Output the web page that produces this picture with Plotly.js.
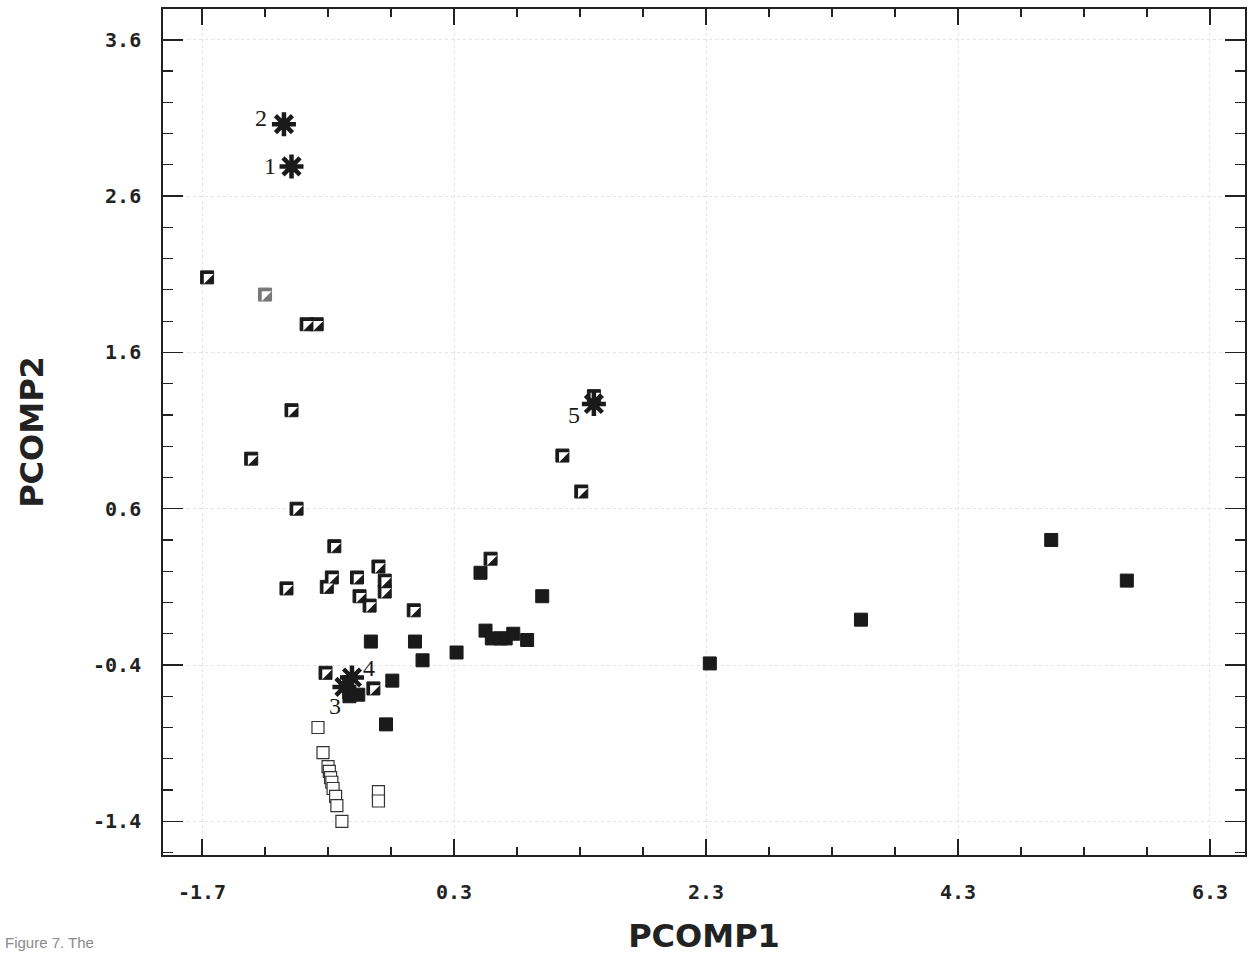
<!DOCTYPE html>
<html>
<head>
<meta charset="utf-8">
<script src="https://cdn.plot.ly/plotly-3.0.1.min.js"></script>
<style>
  html, body { margin: 0; padding: 0; background: #fff; }
  #chart { width: 1256px; height: 957px; }
</style>
</head>
<body>
<div id="chart"></div>
<script>
// Half-filled squares (diagonal black/white)
const halfX = [-1.66, -0.87, -0.79, -0.99, -1.31, -0.95, -0.65, -0.30, -0.67, -0.47, -1.03, -0.71, -0.25, -0.25, -0.45, -0.37, -0.02, -0.72, -0.34, 0.59, 1.41, 1.16, 1.31];
const halfY = [2.08, 1.78, 1.78, 1.23, 0.92, 0.60, 0.36, 0.23, 0.16, 0.16, 0.09, 0.10, 0.14, 0.07, 0.04, -0.02, -0.05, -0.45, -0.55, 0.28, 1.32, 0.94, 0.71];
// Grey half-filled square
const greyHalfX = [-1.20];
const greyHalfY = [1.97];
// Filled squares
const filledX = [-0.36, -0.01, 0.05, -0.19, -0.53, -0.46, -0.24, 0.32, 0.51, 1.00, 0.55, 0.60, 0.67, 0.71, 0.77, 0.88, 2.33, 3.53, 5.04, 5.64];
const filledY = [-0.25, -0.25, -0.37, -0.50, -0.60, -0.59, -0.78, -0.32, 0.19, 0.04, -0.18, -0.23, -0.23, -0.23, -0.20, -0.24, -0.39, -0.11, 0.40, 0.14];
// Open squares
const openX = [-0.78, -0.74, -0.70, -0.69, -0.68, -0.67, -0.66, -0.64, -0.63, -0.59, -0.30, -0.30];
const openY = [-0.80, -0.96, -1.05, -1.08, -1.12, -1.15, -1.19, -1.24, -1.30, -1.40, -1.21, -1.27];
// Stars (numbered)
const starX = [-0.99, -1.05, -0.57, -0.51, 1.41];
const starY = [2.79, 3.06, -0.54, -0.48, 1.27];
const starLabels = ["1", "2", "3", "4", "5"];
// Tick labels
const xTickVals = [-1.7, 0.3, 2.3, 4.3, 6.3];
const xTickText = ["-1.7", "0.3", "2.3", "4.3", "6.3"];
const yTickVals = [-1.4, -0.4, 0.6, 1.6, 2.6, 3.6];
const yTickText = ["-1.4", "-0.4", "0.6", "1.6", "2.6", "3.6"];

const ink = '#1a1a1a';
const traces = [
  { x: openX, y: openY, type: 'scatter', mode: 'markers',
    marker: { symbol: 'square', size: 12, color: '#ffffff', line: { color: '#333', width: 1.2 } } },
  { x: halfX, y: halfY, type: 'scatter', mode: 'markers',
    marker: { symbol: 'square', size: 13, color: ink, line: { color: ink, width: 1 } } },
  { x: halfX, y: halfY, type: 'scatter', mode: 'markers',
    marker: { symbol: 'triangle-nw', size: 11, color: '#ffffff', line: { width: 0 } } },
  { x: greyHalfX, y: greyHalfY, type: 'scatter', mode: 'markers',
    marker: { symbol: 'square', size: 13, color: '#777', line: { color: '#777', width: 1 } } },
  { x: greyHalfX, y: greyHalfY, type: 'scatter', mode: 'markers',
    marker: { symbol: 'triangle-nw', size: 11, color: '#ffffff', line: { width: 0 } } },
  { x: filledX, y: filledY, type: 'scatter', mode: 'markers',
    marker: { symbol: 'square', size: 13, color: ink, line: { color: ink, width: 1 } } },
  { x: starX, y: starY, type: 'scatter', mode: 'markers',
    marker: { symbol: 'asterisk', size: 20, color: ink, line: { color: ink, width: 4.5 } } },
  { x: starX, y: starY, type: 'scatter', mode: 'markers',
    marker: { symbol: 'circle', size: 12, color: ink, line: { width: 0 } } }
];

const labelShift = { "1": [-22, 0], "2": [-23, 6], "3": [-9, -19], "4": [17, 10], "5": [-20, -11] };
const annotations = starLabels.map((t, i) => ({
  x: starX[i], y: starY[i], xref: 'x', yref: 'y', text: t, showarrow: false,
  xshift: labelShift[t][0], yshift: labelShift[t][1],
  font: { family: 'Liberation Serif, serif', size: 24, color: ink }
}));
annotations.push({
  xref: 'paper', yref: 'paper', x: -0.148, y: -0.116, xanchor: 'left', yanchor: 'bottom',
  text: 'Figure 7. The', showarrow: false,
  font: { family: 'Liberation Sans, sans-serif', size: 15, color: '#8a8a8a' }
});

const tickFont = { family: 'DejaVu Sans Mono, monospace', size: 20, color: '#222', weight: 'bold' };
const titleFont = { family: 'DejaVu Sans, sans-serif', size: 32, color: '#222', weight: 'bold' };

const layout = {
  width: 1256, height: 957,
  margin: { l: 163, r: 11, t: 9, b: 102 },
  paper_bgcolor: '#ffffff', plot_bgcolor: '#ffffff',
  showlegend: false,
  xaxis: {
    range: [-2.01, 6.578], tickvals: xTickVals, ticktext: xTickText,
    ticks: 'inside', ticklen: 16, tickwidth: 1.5, tickcolor: '#222',
    showline: true, linecolor: '#222', linewidth: 1.8, mirror: 'ticks',
    showgrid: true, gridcolor: '#e4e4e4', gridwidth: 1, griddash: 'dot',
    zeroline: false, tickfont: tickFont, ticklabelstandoff: 18,
    minor: { dtick: 0.5, tick0: -1.7, ticks: 'inside', ticklen: 8, tickwidth: 1.2, tickcolor: '#222', showgrid: false },
    title: { text: 'PCOMP1', font: titleFont, standoff: 22 }
  },
  yaxis: {
    range: [-1.6156, 3.797], tickvals: yTickVals, ticktext: yTickText,
    ticks: 'inside', ticklen: 20, tickwidth: 1.5, tickcolor: '#222',
    showline: true, linecolor: '#222', linewidth: 1.8, mirror: 'ticks',
    showgrid: true, gridcolor: '#e4e4e4', gridwidth: 1, griddash: 'dot',
    zeroline: false, tickfont: tickFont, ticklabelstandoff: 16,
    minor: { dtick: 0.2, tick0: -1.4, ticks: 'inside', ticklen: 10, tickwidth: 1.2, tickcolor: '#222', showgrid: false },
    title: { text: 'PCOMP2', font: titleFont, standoff: 40 }
  },
  annotations: annotations
};

Plotly.newPlot('chart', traces, layout, { displayModeBar: false, staticPlot: true });
</script>
</body>
</html>
